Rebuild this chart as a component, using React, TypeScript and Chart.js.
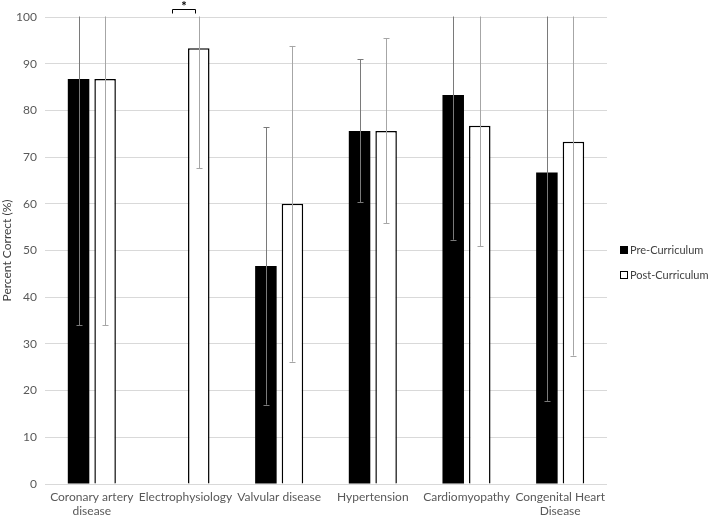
import React, { useEffect, useRef } from "react";
import { Chart, registerables } from "chart.js";

Chart.register(...registerables);

const categories: (string | string[])[] = [
  ["Coronary artery", "disease"],
  "Electrophysiology",
  "Valvular disease",
  "Hypertension",
  "Cardiomyopathy",
  ["Congenital Heart", "Disease"],
];
const preValues: (number | null)[] = [86.7, null, 46.7, 75.6, 83.3, 66.7];
const postValues: (number | null)[] = [86.7, 93.3, 60.0, 75.6, 76.7, 73.3];
const preErrors: (number | null)[] = [52.7, null, 29.7, 15.3, 31.0, 48.9];
const postErrors: (number | null)[] = [52.7, 25.7, 33.8, 19.8, 25.8, 45.8];
const seriesNames = ["Pre-Curriculum", "Post-Curriculum"];
const significantIndex = 1;
const significanceLabel = "*";
const yTitle = "Percent Correct (%)";

const FONT = "Lato, 'Open Sans', sans-serif";
const TEXT = "#595959";

const errorBarPlugin = {
  id: "errorBars",
  afterDatasetsDraw(chart: any) {
    const { ctx, chartArea } = chart;
    const yScale = chart.scales.y;
    const errs = [preErrors, postErrors];
    const vals = [preValues, postValues];
    const colors = ["#7a7a7a", "#a6a6a6"];
    ctx.save();
    ctx.beginPath();
    ctx.rect(chartArea.left, chartArea.top - 0.5, chartArea.right - chartArea.left, chartArea.bottom - chartArea.top + 1);
    ctx.clip();
    for (let d = 0; d < 2; d++) {
      const meta = chart.getDatasetMeta(d);
      meta.data.forEach((bar: any, j: number) => {
        const v = vals[d][j];
        const e = errs[d][j];
        if (v == null || e == null) return;
        const x = Math.round(bar.x) + 0.5;
        const yHi = yScale.getPixelForValue(v + e);
        const yLo = yScale.getPixelForValue(v - e);
        ctx.strokeStyle = colors[d];
        ctx.lineWidth = 1;
        ctx.beginPath();
        ctx.moveTo(x, yHi);
        ctx.lineTo(x, yLo);
        ctx.moveTo(x - 3, Math.round(yHi) + 0.5);
        ctx.lineTo(x + 3, Math.round(yHi) + 0.5);
        ctx.moveTo(x - 3, Math.round(yLo) + 0.5);
        ctx.lineTo(x + 3, Math.round(yLo) + 0.5);
        ctx.stroke();
      });
    }
    ctx.restore();
  },
  afterDraw(chart: any) {
    const { ctx, chartArea } = chart;
    // significance bracket
    const postBar: any = chart.getDatasetMeta(1).data[significantIndex];
    const center = chart.scales.x.getPixelForValue(significantIndex);
    const postX = postBar.x;
    const preX = 2 * center - postX;
    const left = Math.round(preX) + 0.5;
    const right = Math.round(postX - 4) + 0.5;
    const yTop = chartArea.top - 7.5;
    ctx.save();
    ctx.strokeStyle = "#000";
    ctx.lineWidth = 1;
    ctx.beginPath();
    ctx.moveTo(left, yTop + 4);
    ctx.lineTo(left, yTop);
    ctx.lineTo(right, yTop);
    ctx.lineTo(right, yTop + 4);
    ctx.stroke();
    ctx.fillStyle = "#000";
    ctx.font = `bold 13px ${FONT}`;
    ctx.textAlign = "center";
    ctx.textBaseline = "middle";
    ctx.fillText(significanceLabel, (left + right) / 2, yTop - 3);

    // legend
    const lx = chartArea.right + 13;
    const items = [
      { y: 250, fill: "#000" },
      { y: 275, fill: "#fff" },
    ];
    ctx.font = `11px ${FONT}`;
    ctx.textAlign = "left";
    ctx.textBaseline = "middle";
    items.forEach((it, i) => {
      ctx.fillStyle = it.fill;
      ctx.fillRect(lx, it.y - 4, 8, 8);
      ctx.strokeStyle = "#000";
      ctx.lineWidth = 1;
      ctx.strokeRect(lx + 0.5, it.y - 3.5, 7, 7);
      ctx.fillStyle = "#404040";
      ctx.fillText(seriesNames[i], lx + 10, it.y);
    });
    ctx.restore();
  },
};

export default function App() {
  const canvasRef = useRef<HTMLCanvasElement | null>(null);

  useEffect(() => {
    const canvas = canvasRef.current;
    if (!canvas) return;
    const chart = new Chart(canvas, {
      type: "bar",
      data: {
        labels: categories,
        datasets: [
          {
            label: seriesNames[0],
            data: preValues,
            backgroundColor: "#000000",
            borderColor: "#000000",
            borderWidth: 0,
          },
          {
            label: seriesNames[1],
            data: postValues,
            backgroundColor: "#ffffff",
            borderColor: "#000000",
            borderWidth: 1.5,
          },
        ],
      },
      options: {
        animation: false,
        responsive: false,
        maintainAspectRatio: false,
        layout: { padding: { top: 17, right: 101, left: 0, bottom: 0 } },
        datasets: {
          bar: { categoryPercentage: 0.567, barPercentage: 0.81 },
        },
        plugins: {
          legend: { display: false },
          tooltip: { enabled: false },
        },
        scales: {
          x: {
            grid: { display: false, drawTicks: false },
            border: { display: false },
            ticks: {
              color: TEXT,
              font: { family: FONT, size: 12 },
              padding: 6,
              maxRotation: 0,
              autoSkip: false,
            },
            afterFit(s: any) {
              s.height = 34;
            },
          },
          y: {
            min: 0,
            max: 100,
            grid: { color: "#d9d9d9", drawTicks: false, lineWidth: 1 },
            border: { display: false },
            ticks: {
              stepSize: 10,
              color: TEXT,
              font: { family: FONT, size: 12 },
              padding: 8,
            },
            title: {
              display: true,
              text: yTitle,
              color: "#404040",
              font: { family: FONT, size: 12 },
              padding: { top: 0, bottom: 0 },
            },
            afterFit(s: any) {
              s.width = 45;
            },
          },
        },
      },
      plugins: [errorBarPlugin],
    });
    return () => chart.destroy();
  }, []);

  return (
    <div style={{ position: "fixed", left: 0, top: 0, width: 708, height: 518, background: "#fff" }}>
      <canvas ref={canvasRef} width={708} height={518} style={{ display: "block" }} />
    </div>
  );
}
